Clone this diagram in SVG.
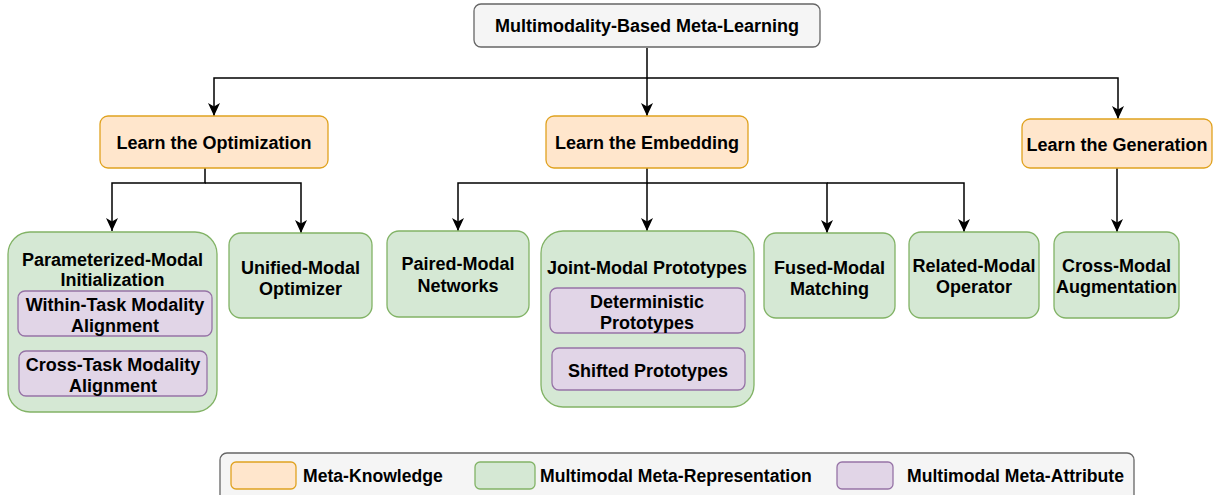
<svg xmlns="http://www.w3.org/2000/svg" width="1220" height="495" viewBox="0 0 1220 495">
<defs>
<marker id="arr" markerUnits="userSpaceOnUse" markerWidth="13" markerHeight="13" viewBox="0 0 13 13" refX="13" refY="6.5" orient="auto">
<path d="M0,0.5 L13,6.5 L0,12.5 L3.5,6.5 z" fill="#000"/>
</marker>
<style>
text{font-family:"Liberation Sans",Arial,sans-serif;font-weight:bold;font-size:18px;fill:#000;text-anchor:middle}
.lg{text-anchor:start;font-size:17.6px}
.top{fill:#f5f5f5;stroke:#666666;stroke-width:1.3}
.ok{fill:#ffe6cc;stroke:#e0a21f;stroke-width:1.3}
.gr{fill:#d5e8d4;stroke:#82b366;stroke-width:1.3}
.pu{fill:#e1d5e7;stroke:#9673a6;stroke-width:1.3}
.leg{fill:#f5f5f5;stroke:#666666;stroke-width:1.3}
.c{fill:none;stroke:#000;stroke-width:1.5}
</style>
</defs>
<rect width="1220" height="495" fill="#fff"/>
<g id="connectors">
<path class="c" d="M647,48 V78 H214 V116" marker-end="url(#arr)"/>
<path class="c" d="M647,78 V116" marker-end="url(#arr)"/>
<path class="c" d="M647,78 H1118 V119" marker-end="url(#arr)"/>
<path class="c" d="M205,168 V183 H112 V231" marker-end="url(#arr)"/>
<path class="c" d="M205,183 H301 V233" marker-end="url(#arr)"/>
<path class="c" d="M647,168 V183 H458 V231" marker-end="url(#arr)"/>
<path class="c" d="M647,183 V231" marker-end="url(#arr)"/>
<path class="c" d="M647,183 H827 V233" marker-end="url(#arr)"/>
<path class="c" d="M827,183 H964 V232" marker-end="url(#arr)"/>
<path class="c" d="M1117,168 V232" marker-end="url(#arr)"/>
</g>
<g id="root">
<rect class="top" x="474" y="4" width="346" height="43" rx="7"/>
<text x="647" y="32">Multimodality-Based Meta-Learning</text>
</g>
<g id="learn-optimization">
<rect class="ok" x="100" y="116" width="228" height="52" rx="8"/>
<text x="214" y="148.5">Learn the Optimization</text>
</g>
<g id="learn-embedding">
<rect class="ok" x="546" y="116" width="202" height="52" rx="8"/>
<text x="647" y="148.5">Learn the Embedding</text>
</g>
<g id="learn-generation">
<rect class="ok" x="1022" y="119" width="190" height="49" rx="8"/>
<text x="1117" y="150.5">Learn the Generation</text>
</g>
<g id="parameterized-modal">
<rect class="gr" x="8" y="232" width="209" height="180" rx="22"/>
<text x="112.5" y="266">Parameterized-Modal</text>
<text x="112.5" y="286">Initialization</text>
</g>
<g id="within-task">
<rect class="pu" x="18" y="291" width="194" height="45" rx="7"/>
<text x="115" y="310.5">Within-Task Modality</text>
<text x="115" y="331.5">Alignment</text>
</g>
<g id="cross-task">
<rect class="pu" x="19" y="351" width="188" height="45" rx="7"/>
<text x="113" y="370.5">Cross-Task Modality</text>
<text x="113" y="391.5">Alignment</text>
</g>
<g id="unified-modal">
<rect class="gr" x="229" y="233" width="143" height="85" rx="12"/>
<text x="300.5" y="273.5">Unified-Modal</text>
<text x="300.5" y="294.5">Optimizer</text>
</g>
<g id="paired-modal">
<rect class="gr" x="387" y="231" width="142" height="86" rx="12"/>
<text x="458" y="269.5">Paired-Modal</text>
<text x="458" y="291.5">Networks</text>
</g>
<g id="joint-modal">
<rect class="gr" x="541" y="231" width="213" height="176" rx="22"/>
<text x="647" y="273.5">Joint-Modal Prototypes</text>
</g>
<g id="deterministic">
<rect class="pu" x="550" y="288" width="195" height="45" rx="7"/>
<text x="647" y="307.5">Deterministic</text>
<text x="647" y="328.5">Prototypes</text>
</g>
<g id="shifted">
<rect class="pu" x="552" y="348" width="193" height="42" rx="7"/>
<text x="648" y="376.5">Shifted Prototypes</text>
</g>
<g id="fused-modal">
<rect class="gr" x="764" y="233" width="131" height="85" rx="12"/>
<text x="829.5" y="273.5">Fused-Modal</text>
<text x="829.5" y="294.5">Matching</text>
</g>
<g id="related-modal">
<rect class="gr" x="909" y="232" width="130" height="86" rx="12"/>
<text x="974" y="271.5">Related-Modal</text>
<text x="974" y="292.5">Operator</text>
</g>
<g id="cross-modal">
<rect class="gr" x="1054" y="232" width="125" height="86" rx="12"/>
<text x="1116.5" y="271.5">Cross-Modal</text>
<text x="1116.5" y="292.5">Augmentation</text>
</g>
<g id="legend">
<rect class="leg" x="220" y="453" width="914" height="50" rx="7"/>
<rect class="ok" x="231" y="462" width="65" height="27" rx="5"/>
<text class="lg" x="303" y="482">Meta-Knowledge</text>
<rect class="gr" x="475" y="462" width="60" height="27" rx="5"/>
<text class="lg" x="540" y="482">Multimodal Meta-Representation</text>
<rect class="pu" x="837" y="462" width="56" height="27" rx="5"/>
<text class="lg" x="907" y="482">Multimodal Meta-Attribute</text>
</g>
</svg>
